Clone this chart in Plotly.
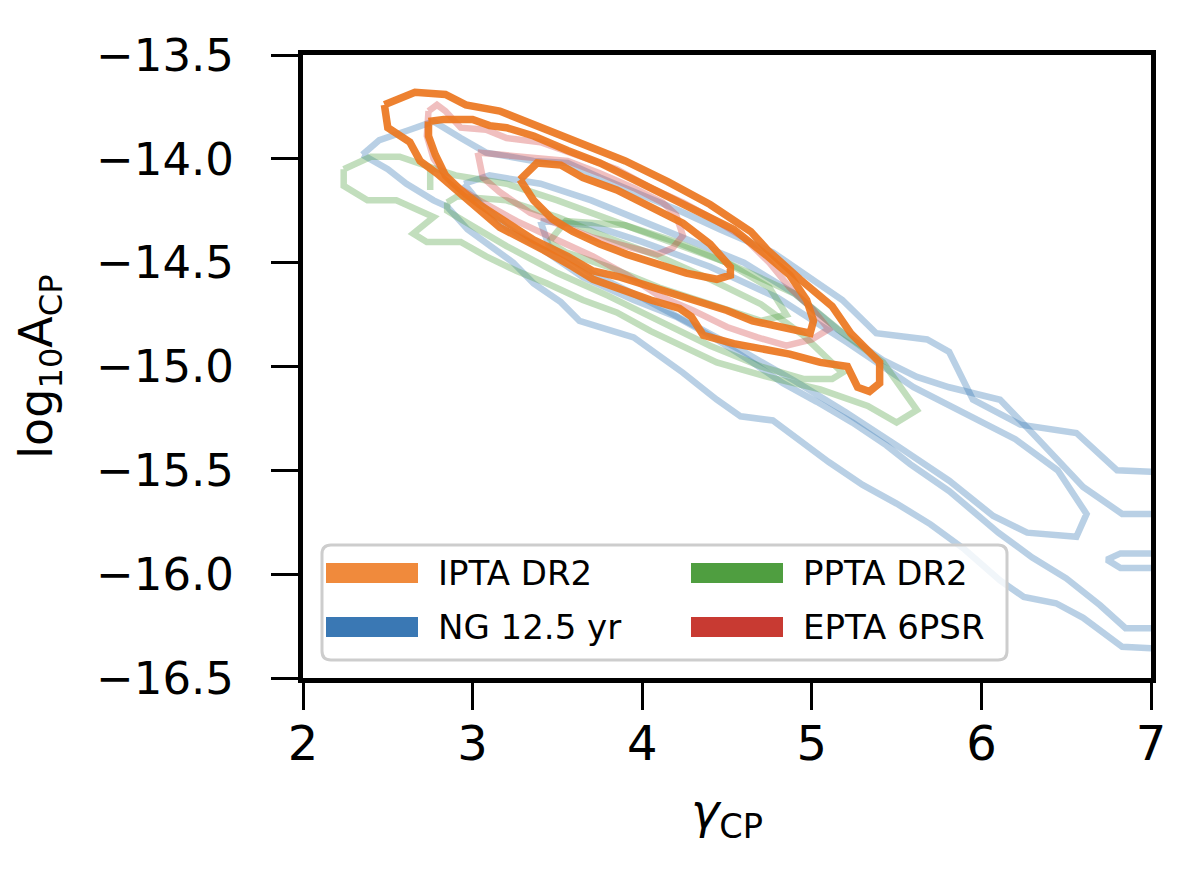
import plotly.graph_objects as go

# ---------------- data (gamma_CP, log10 A_CP) contour vertices ----------------
# IPTA DR2 (orange)
ipta_l3_x = [2.48, 2.66, 2.84, 2.96, 3.16, 3.38, 3.65, 3.90, 4.15, 4.40, 4.64, 4.74, 4.93, 5.12, 5.23, 5.40, 5.40, 5.34, 5.27, 5.21, 5.05, 4.87, 4.54, 4.36, 4.29, 4.22, 4.05, 3.87, 3.71, 3.59, 3.42, 3.16, 2.95, 2.79, 2.69, 2.63, 2.50, 2.48]
ipta_l3_y = [-13.74, -13.68, -13.69, -13.74, -13.77, -13.84, -13.93, -14.01, -14.11, -14.22, -14.35, -14.44, -14.58, -14.71, -14.84, -14.98, -15.08, -15.12, -15.10, -15.00, -14.98, -14.94, -14.89, -14.85, -14.76, -14.72, -14.68, -14.63, -14.58, -14.52, -14.44, -14.33, -14.18, -14.07, -14.01, -13.92, -13.85, -13.74]
ipta_l2_x = [2.74, 2.83, 3.00, 3.10, 3.20, 3.36, 3.56, 3.75, 3.95, 4.15, 4.34, 4.54, 4.74, 4.87, 4.97, 5.01, 4.99, 4.81, 4.65, 4.50, 4.34, 4.16, 4.00, 3.87, 3.71, 3.56, 3.36, 3.16, 3.04, 2.93, 2.84, 2.78, 2.74, 2.74]
ipta_l2_y = [-13.82, -13.81, -13.81, -13.84, -13.85, -13.89, -13.96, -14.02, -14.10, -14.18, -14.26, -14.34, -14.47, -14.56, -14.68, -14.78, -14.84, -14.81, -14.78, -14.73, -14.69, -14.65, -14.61, -14.57, -14.54, -14.47, -14.39, -14.29, -14.22, -14.15, -14.08, -13.98, -13.89, -13.82]
ipta_l1_x = [3.28, 3.38, 3.52, 3.65, 3.85, 4.05, 4.24, 4.40, 4.52, 4.52, 4.44, 4.26, 4.09, 3.91, 3.75, 3.59, 3.47, 3.36, 3.28]
ipta_l1_y = [-14.10, -14.02, -14.03, -14.09, -14.15, -14.23, -14.31, -14.41, -14.52, -14.56, -14.58, -14.55, -14.51, -14.46, -14.41, -14.35, -14.29, -14.20, -14.10]

# NG 12.5 yr (blue)
ng_l3_x = [2.35, 2.45, 2.63, 2.77, 2.93, 3.08, 3.36, 3.56, 3.75, 3.99, 4.22, 4.46, 4.77, 4.93, 5.09, 5.18, 5.38, 5.68, 5.81, 5.95, 6.23, 6.56, 6.80, 7.10,
           7.10, 6.83, 6.60, 6.44, 6.25, 6.11, 5.90, 5.70, 5.50, 5.30, 5.10, 4.95, 4.77, 4.58, 4.44, 4.24, 4.05, 3.95, 3.75, 3.63, 3.52, 3.36, 3.24, 3.08, 2.97, 2.85, 2.77, 2.61, 2.50, 2.35]
ng_l3_y = [-13.98, -13.91, -13.86, -13.82, -13.90, -13.97, -14.01, -14.02, -14.09, -14.17, -14.25, -14.34, -14.45, -14.54, -14.63, -14.68, -14.84, -14.87, -14.93, -15.16, -15.28, -15.32, -15.50, -15.51,
           -16.36, -16.35, -16.21, -16.14, -16.11, -16.03, -15.88, -15.76, -15.66, -15.57, -15.46, -15.37, -15.26, -15.24, -15.16, -15.03, -14.92, -14.86, -14.81, -14.78, -14.69, -14.60, -14.50, -14.41, -14.34, -14.23, -14.20, -14.12, -14.05, -13.98]
ng_l2_x = [2.95, 3.10, 3.40, 3.70, 4.00, 4.30, 4.60, 4.90, 5.15, 5.42, 5.62, 5.81, 6.11, 6.30, 6.60, 6.83, 7.10,
           7.10, 6.85, 6.70, 6.50, 6.30, 6.10, 5.81, 5.58, 5.44, 5.24, 5.03, 4.83, 4.65, 4.42, 4.20, 3.95, 3.65, 3.42, 3.20, 3.05, 2.95]
ng_l2_y = [-14.12, -14.08, -14.12, -14.20, -14.30, -14.40, -14.50, -14.65, -14.82, -14.97, -15.05, -15.10, -15.16, -15.32, -15.58, -15.71, -15.71,
           -16.26, -16.26, -16.15, -16.02, -15.92, -15.80, -15.60, -15.47, -15.38, -15.27, -15.17, -15.08, -14.98, -14.86, -14.76, -14.68, -14.57, -14.44, -14.33, -14.22, -14.12]
ng_l1_x = [3.40, 3.70, 4.00, 4.40, 4.80, 5.20, 5.60, 5.95, 6.20, 6.45, 6.62, 6.56, 6.27, 6.07, 5.81, 5.50, 5.20, 4.90, 4.60, 4.30, 4.00, 3.70, 3.45, 3.40,
           None, 7.10, 6.82, 6.74, 6.82, 7.10]
ng_l1_y = [-14.30, -14.32, -14.40, -14.52, -14.67, -14.88, -15.10, -15.25, -15.35, -15.50, -15.71, -15.82, -15.80, -15.72, -15.55, -15.38, -15.22, -15.07, -14.93, -14.80, -14.67, -14.55, -14.42, -14.30,
           None, -15.90, -15.90, -15.93, -15.97, -15.97]

# PPTA DR2 (green)
ppta_l3_x = [2.24, 2.40, 2.57, 2.69, 2.75, 2.75, 2.75, 2.90, 3.20, 3.50, 4.00, 4.50, 4.90, 5.20, 5.42, 5.62, 5.50, 5.33, 5.05, 4.74, 4.44, 4.24, 4.05, 3.85, 3.65, 3.44, 3.26, 3.08, 2.93, 2.73, 2.65, 2.77, 2.55, 2.38, 2.24, 2.24]
ppta_l3_y = [-14.05, -13.99, -13.99, -14.02, -14.04, -14.15, -14.04, -14.08, -14.12, -14.20, -14.35, -14.50, -14.65, -14.85, -14.98, -15.21, -15.27, -15.19, -15.11, -15.05, -14.98, -14.90, -14.83, -14.74, -14.68, -14.60, -14.54, -14.47, -14.40, -14.40, -14.36, -14.28, -14.20, -14.20, -14.13, -14.05]
ppta_l2_x = [2.85, 2.91, 3.20, 3.50, 3.80, 4.10, 4.40, 4.70, 4.95, 5.18, 5.12, 4.95, 4.70, 4.40, 4.10, 3.80, 3.50, 3.20, 2.95, 2.85, 2.85]
ppta_l2_y = [-14.21, -14.18, -14.20, -14.28, -14.38, -14.47, -14.58, -14.70, -14.85, -15.03, -15.06, -15.06, -15.00, -14.90, -14.78, -14.66, -14.55, -14.42, -14.30, -14.25, -14.21]
ppta_l1_x = [3.45, 3.55, 3.90, 4.20, 4.50, 4.75, 4.85, 4.70, 4.40, 4.10, 3.80, 3.55, 3.45]
ppta_l1_y = [-14.40, -14.30, -14.32, -14.40, -14.50, -14.62, -14.75, -14.78, -14.70, -14.62, -14.52, -14.45, -14.40]

# EPTA 6PSR (red)
epta_l2_x = [2.74, 2.79, 2.84, 2.93, 3.08, 3.20, 3.40, 3.65, 3.85, 4.05, 4.24, 4.44, 4.60, 4.75, 4.87, 5.00, 5.10, 5.00, 4.85, 4.68, 4.50, 4.30, 4.10, 3.91, 3.71, 3.47, 3.26, 3.06, 2.88, 2.77, 2.73, 2.74]
epta_l2_y = [-13.77, -13.74, -13.77, -13.85, -13.86, -13.90, -13.92, -13.99, -14.05, -14.14, -14.21, -14.30, -14.38, -14.50, -14.62, -14.72, -14.82, -14.87, -14.90, -14.86, -14.81, -14.73, -14.66, -14.56, -14.47, -14.38, -14.30, -14.21, -14.12, -14.00, -13.89, -13.77]
epta_l1_x = [3.03, 3.36, 3.56, 3.75, 3.95, 4.12, 4.20, 4.24, 4.18, 4.09, 3.91, 3.71, 3.52, 3.34, 3.16, 3.06, 3.03]
epta_l1_y = [-13.97, -13.99, -14.01, -14.07, -14.14, -14.21, -14.27, -14.37, -14.43, -14.46, -14.42, -14.38, -14.32, -14.26, -14.16, -14.09, -13.97]

# axes
x_ticks = [2, 3, 4, 5, 6, 7]
x_ticktext = ["2", "3", "4", "5", "6", "7"]
y_ticks = [-13.5, -14.0, -14.5, -15.0, -15.5, -16.0, -16.5]
y_ticktext = ["\u221213.5", "\u221214.0", "\u221214.5", "\u221215.0", "\u221215.5", "\u221216.0", "\u221216.5"]

legend_names = ["IPTA DR2", "NG 12.5 yr", "PPTA DR2", "EPTA 6PSR"]
legend_colors = ["#f08a3c", "#3a78b4", "#4f9e40", "#c83a32"]

# ---------------- styles ----------------
BLUE = "rgba(55,120,180,0.35)"
GREEN = "rgba(80,160,65,0.35)"
PINK = "rgba(210,60,60,0.33)"
ORANGE = "rgba(236,118,30,0.92)"

fig = go.Figure()

def add(xs, ys, color, width):
    fig.add_trace(go.Scatter(x=xs, y=ys, mode="lines", showlegend=False,
                             hoverinfo="skip",
                             line=dict(color=color, width=width)))

for xs, ys in [(ng_l3_x, ng_l3_y), (ng_l2_x, ng_l2_y), (ng_l1_x, ng_l1_y)]:
    add(xs, ys, BLUE, 6.5)
for xs, ys in [(ppta_l3_x, ppta_l3_y), (ppta_l2_x, ppta_l2_y), (ppta_l1_x, ppta_l1_y)]:
    add(xs, ys, GREEN, 6.5)
for xs, ys in [(epta_l2_x, epta_l2_y), (epta_l1_x, epta_l1_y)]:
    add(xs, ys, PINK, 6.5)
for xs, ys in [(ipta_l3_x, ipta_l3_y), (ipta_l2_x, ipta_l2_y), (ipta_l1_x, ipta_l1_y)]:
    add(xs, ys, ORANGE, 7.5)

# ---------------- layout geometry (pixels) ----------------
W, H = 1200, 875
L, R, T, B = 303, 1151, 55, 678
pw, ph = R - L, B - T

def px(xp):
    return (xp - L) / pw

def py(yp):
    return (B - yp) / ph

FONT = "DejaVu Sans"

fig.update_layout(
    width=W, height=H,
    margin=dict(l=L, r=W - R, t=T, b=H - B, pad=0),
    plot_bgcolor="white", paper_bgcolor="white",
    font=dict(family=FONT, color="black"),
    showlegend=False,
)
fig.update_xaxes(
    range=[2, 7], tickvals=x_ticks, ticktext=x_ticktext,
    showgrid=False, zeroline=False,
    showline=True, linecolor="black", linewidth=5, mirror=True,
    ticks="outside", ticklen=27, tickwidth=2.5, tickcolor="black",
    tickfont=dict(family=FONT, size=48, color="black"),
    ticklabelstandoff=-8,
    title=dict(text="<i>\u03b3</i><sub>CP</sub>", font=dict(family=FONT, size=48, color="black"), standoff=26),
)
fig.update_yaxes(
    range=[-16.5, -13.5], tickvals=y_ticks, ticktext=y_ticktext,
    showgrid=False, zeroline=False,
    showline=True, linecolor="black", linewidth=5, mirror=True,
    ticks="outside", ticklen=27, tickwidth=2.5, tickcolor="black",
    tickfont=dict(family=FONT, size=45, color="black"),
    ticklabelstandoff=28,
    title=dict(text="log<sub>10</sub>A<sub>CP</sub>", font=dict(family=FONT, size=46, color="black"), standoff=30),
)

# ---------------- legend (drawn) ----------------
bx0, bx1, by0, by1, rr = 322, 1007, 545, 660, 9
x0, x1, y0, y1 = px(bx0), px(bx1), py(by0), py(by1)
rx, ry = rr / pw, rr / ph
path = (f"M {x0+rx},{y0} L {x1-rx},{y0} Q {x1},{y0} {x1},{y0-ry} "
        f"L {x1},{y1+ry} Q {x1},{y1} {x1-rx},{y1} L {x0+rx},{y1} "
        f"Q {x0},{y1} {x0},{y1+ry} L {x0},{y0-ry} Q {x0},{y0} {x0+rx},{y0} Z")
shapes = [dict(type="path", xref="paper", yref="paper", path=path,
               fillcolor="rgba(255,255,255,0.8)", line=dict(color="rgba(205,205,205,1)", width=3), layer="above")]
annotations = []
slots = [(326, 573), (326, 627), (691, 573), (691, 627)]
for (sx, sy), name, col in zip(slots, legend_names, legend_colors):
    shapes.append(dict(type="rect", xref="paper", yref="paper",
                       x0=px(sx), x1=px(sx + 92), y0=py(sy - 10), y1=py(sy + 10),
                       fillcolor=col, line=dict(width=0), layer="above"))
    annotations.append(dict(xref="paper", yref="paper", x=px(sx + 110), y=py(sy),
                            text=name, showarrow=False, xanchor="left", yanchor="middle",
                            font=dict(family=FONT, size=34, color="black")))
fig.update_layout(shapes=shapes, annotations=annotations)

fig.write_html("out.html")
